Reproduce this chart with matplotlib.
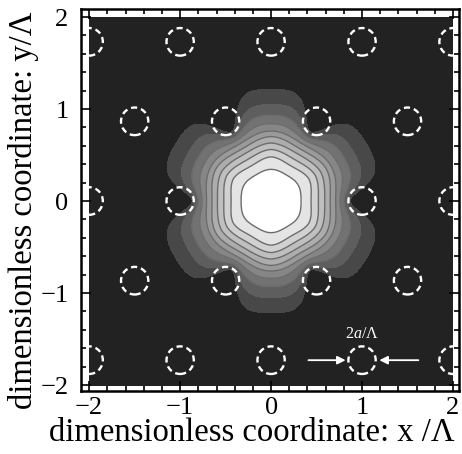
import numpy as np
import matplotlib
matplotlib.use("Agg")
import matplotlib.pyplot as plt
from matplotlib.patches import Circle, Rectangle

plt.rcParams['font.family'] = ['Liberation Serif', 'DejaVu Serif']
plt.rcParams['mathtext.fontset'] = 'custom'
plt.rcParams['mathtext.rm'] = 'Liberation Serif'
plt.rcParams['mathtext.it'] = 'Liberation Serif:italic'

# contour boundaries, outer -> inner (radius in units of pitch)
r_lobe = [1.22, 1.05, 0.93, 0.84, 0.76, 0.70, 0.63, 0.56, 0.48, 0.345]
r_hole = [0.87, 0.835, 0.80, 0.76, 0.71, 0.65, 0.59, 0.52, 0.44, 0.33]
lobe_sharp = [3.0, 2.6, 2.0, 1.5, 1.1, 0.9, 0.8, 0.8, 0.8, 1.0]
band_grey = [0x22, 0x48, 0x5e, 0x72, 0x86, 0x9a, 0xad, 0xbf, 0xd1, 0xe4, 0xff]

# air holes of the cladding
hole_x = [-2, -1, 0, 1, 2,
          -1.5, -0.5, 0.5, 1.5,
          -2, -1, 1, 2,
          -1.5, -0.5, 0.5, 1.5,
          -2, -1, 0, 1, 2]
hole_y = [1.73] * 5 + [0.866] * 4 + [0.0] * 4 + [-0.866] * 4 + [-1.73] * 5
hole_r = 0.15

# build field whose level sets follow the read radii
n = 700
x = np.linspace(-2, 2, n)
X, Y = np.meshgrid(x, x)
R = np.hypot(X, Y)
T = np.arctan2(Y, X)
c6 = (1 + np.cos(6 * T)) / 2
nb = len(r_lobe)
Rs = np.array([rl - (rl - rh) * c6 ** p
               for rl, rh, p in zip(r_lobe, r_hole, lobe_sharp)])[::-1]  # inner -> outer
vals = np.arange(nb, 0, -1)
F = np.zeros_like(R)
inside = R < Rs[0]
F[inside] = (nb + (Rs[0] - R) / Rs[0])[inside]
for j in range(nb - 1):
    m = (R >= Rs[j]) & (R < Rs[j + 1])
    F[m] = (vals[j] - (R - Rs[j]) / (Rs[j + 1] - Rs[j]))[m]
out = R >= Rs[-1]
F[out] = (np.clip(1 - (R - Rs[-1]) / 0.3, 0, 1) * 0.5)[out]

fig = plt.figure(figsize=(4.62, 4.54), dpi=100)
ax = fig.add_axes([81 / 462, 63 / 454, 378 / 462, 382 / 454])
ax.set_facecolor('white')

levels = [-1] + list(range(1, nb + 1)) + [nb + 2]
cols = ['#%02x%02x%02x' % (g, g, g) for g in band_grey]
ax.contourf(X, Y, F, levels=levels, colors=cols)
ax.contour(X, Y, F, levels=list(range(3, nb + 1)), colors='#6c6c6c', linewidths=1.0)

clip = Rectangle((-2, -2), 4, 4, transform=ax.transData, fill=False, lw=0)
for hx, hy in zip(hole_x, hole_y):
    c = Circle((hx, hy), hole_r, fill=False, ec='white', lw=1.7,
               linestyle=(0, (2.6, 1.7)))
    ax.add_patch(c)
    c.set_clip_path(clip)

# hole-size annotation
ax.annotate('', xy=(0.85, -1.73), xytext=(0.38, -1.73),
            arrowprops=dict(arrowstyle='-|>', color='white', lw=1.3, mutation_scale=12))
ax.annotate('', xy=(1.16, -1.73), xytext=(1.65, -1.73),
            arrowprops=dict(arrowstyle='-|>', color='white', lw=1.3, mutation_scale=12))
ax.text(1.0, -1.45, r'$2a/\Lambda$', color='white', fontsize=11.5, ha='center', va='center')

ax.set_xlim(-2.09, 2.066)
ax.set_ylim(-2.065, 2.087)
ax.set_xticks([-2, -1, 0, 1, 2])
ax.set_yticks([-2, -1, 0, 1, 2])
ax.set_xticks(np.arange(-2, 2.01, 0.2), minor=True)
ax.set_yticks(np.arange(-2, 2.01, 0.2), minor=True)
ax.tick_params(which='both', direction='in', top=True, right=True, width=1.2, labelsize=19)
ax.tick_params(which='major', length=7)
ax.tick_params(which='minor', length=3.5)
ax.tick_params(axis='x', pad=4)
ax.tick_params(axis='y', pad=9)
for s in ax.spines.values():
    s.set_linewidth(1.8)

ax.set_xlabel('dimensionless coordinate: x /Λ', fontsize=23.5, va='center')
ax.xaxis.set_label_coords(0.452, -0.11)
ax.set_ylabel('dimensionless coordinate: y/Λ', fontsize=23.5, va='center')
ax.yaxis.set_label_coords(-0.151, 0.474)

fig.savefig('out.png', dpi=100)
